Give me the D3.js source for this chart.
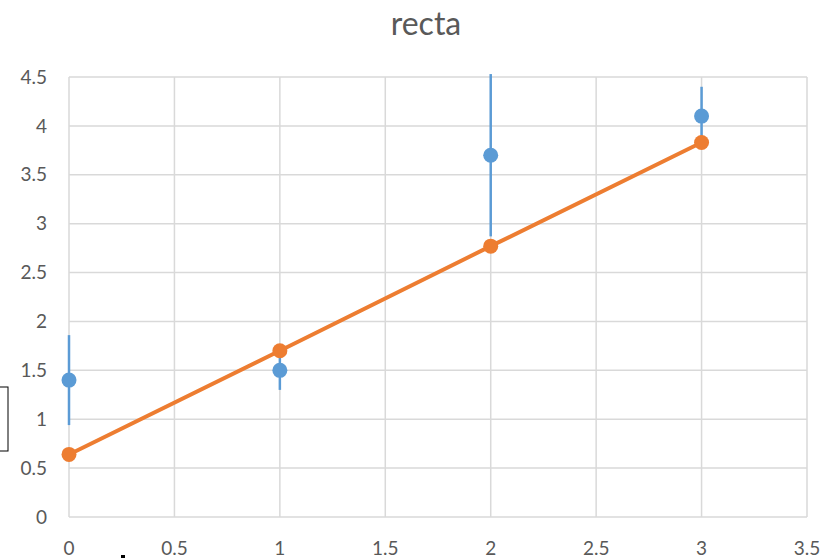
<html>
<head>
<meta charset="utf-8">
<title>recta</title>
<style>
  body { margin: 0; background: #fff; }
  text { font-family: Lato, "Liberation Sans", sans-serif; fill: #595959; }
</style>
</head>
<body>
<script src="https://cdn.jsdelivr.net/npm/d3@7"></script>
<script>
var width = 823, height = 558;

// datos
var xs = [0, 1, 2, 3];
var medidos = [1.4, 1.5, 3.7, 4.1];     // puntos azules
var errores = [0.46, 0.2, 0.83, 0.3];   // barras de error
var recta = [0.64, 1.70, 2.77, 3.83];   // ajuste (naranja)
var xTicks = [0, 0.5, 1, 1.5, 2, 2.5, 3, 3.5];
var yTicks = [0, 0.5, 1, 1.5, 2, 2.5, 3, 3.5, 4, 4.5];

var svg = d3.select("body").append("svg")
  .attr("width", width).attr("height", height);

var x = d3.scaleLinear().domain([0, 3.5]).range([69, 807]);
var y = d3.scaleLinear().domain([0, 4.5]).range([517, 77]);

// titulo
svg.append("text")
  .attr("x", 426).attr("y", 35)
  .attr("text-anchor", "middle")
  .style("font-size", "32px")
  .text("recta");

// rejilla
svg.append("g").selectAll("line").data(xTicks).enter().append("line")
  .attr("x1", d => x(d)).attr("x2", d => x(d))
  .attr("y1", y(0)).attr("y2", y(4.5))
  .attr("stroke", "#d9d9d9").attr("stroke-width", 1.5);
svg.append("g").selectAll("line").data(yTicks).enter().append("line")
  .attr("x1", x(0)).attr("x2", x(3.5))
  .attr("y1", d => y(d)).attr("y2", d => y(d))
  .attr("stroke", "#d9d9d9").attr("stroke-width", 1.5);

// etiquetas de ejes
svg.append("g").selectAll("text").data(yTicks).enter().append("text")
  .attr("x", 47).attr("y", d => y(d))
  .attr("dy", "0.35em")
  .attr("text-anchor", "end")
  .style("font-size", "19px")
  .text(d => d);
svg.append("g").selectAll("text").data(xTicks).enter().append("text")
  .attr("x", d => x(d)).attr("y", 555)
  .attr("text-anchor", "middle")
  .style("font-size", "19px")
  .text(d => d);

// barras de error
svg.append("g").selectAll("line").data(xs).enter().append("line")
  .attr("x1", d => x(d)).attr("x2", d => x(d))
  .attr("y1", (d, i) => y(medidos[i] - errores[i]))
  .attr("y2", (d, i) => y(medidos[i] + errores[i]))
  .attr("stroke", "#5b9bd5").attr("stroke-width", 2.5);

// puntos medidos
svg.append("g").selectAll("circle").data(xs).enter().append("circle")
  .attr("cx", d => x(d)).attr("cy", (d, i) => y(medidos[i]))
  .attr("r", 7.5).attr("fill", "#5b9bd5");

// recta de ajuste
var line = d3.line().x(d => x(d)).y((d, i) => y(recta[i]));
svg.append("path").datum(xs)
  .attr("d", line)
  .attr("fill", "none")
  .attr("stroke", "#ed7d31").attr("stroke-width", 4);
svg.append("g").selectAll("circle").data(xs).enter().append("circle")
  .attr("cx", d => x(d)).attr("cy", (d, i) => y(recta[i]))
  .attr("r", 7.5).attr("fill", "#ed7d31");

// restos a la izquierda y abajo
svg.append("rect")
  .attr("x", -10).attr("y", 387).attr("width", 18).attr("height", 64)
  .attr("fill", "none").attr("stroke", "#000").attr("stroke-width", 1);
svg.append("rect")
  .attr("x", 121).attr("y", 555).attr("width", 4).attr("height", 3)
  .attr("fill", "#000");
</script>
</body>
</html>
